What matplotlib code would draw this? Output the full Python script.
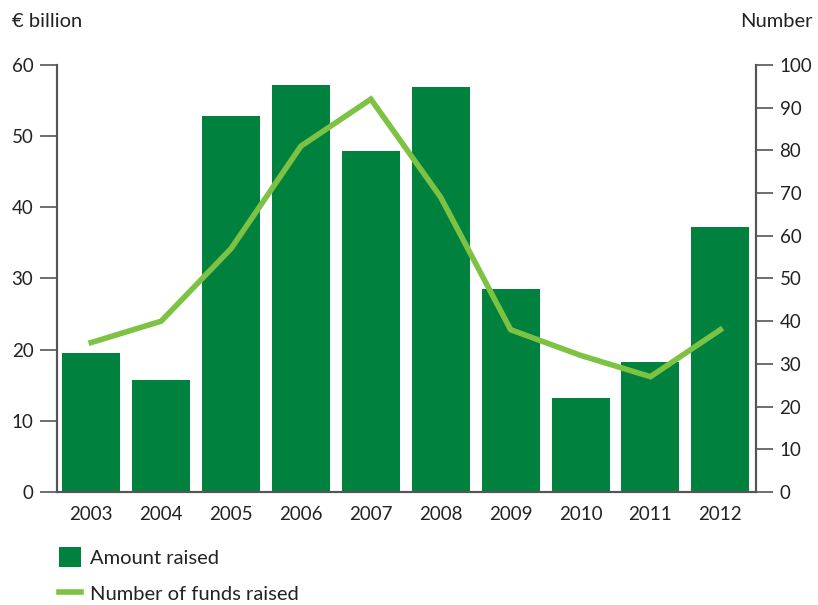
import matplotlib.pyplot as plt
from matplotlib.patches import Patch
from matplotlib.lines import Line2D

plt.rcParams['font.family'] = ['Lato', 'DejaVu Sans']

years = ['2003', '2004', '2005', '2006', '2007', '2008', '2009', '2010', '2011', '2012']
amount_raised = [19.5, 15.7, 52.8, 57.2, 47.9, 56.9, 28.5, 13.2, 18.3, 37.2]
funds_raised = [35, 40, 57, 81, 92, 69, 38, 32, 27, 38]

bar_color = '#00823e'
line_color = '#7dc242'
axis_color = '#555555'
text_color = '#222222'

fig = plt.figure(figsize=(8.18, 6.05), dpi=100)
ax = fig.add_axes([0.0697, 0.1868, 0.8545, 0.7058])
ax2 = ax.twinx()

x = range(len(years))
ax.bar(x, amount_raised, width=0.83, color=bar_color, zorder=2)
ax2.plot(x, funds_raised, color=line_color, lw=4, solid_joinstyle='miter', zorder=3)

ax.set_xlim(-0.49, 9.51)
ax.set_ylim(0, 60)
ax2.set_ylim(0, 100)
ax.set_yticks(range(0, 61, 10))
ax2.set_yticks(range(0, 101, 10))
ax.set_xticks(list(x))
ax.set_xticklabels(years)

for a in (ax, ax2):
    a.spines['top'].set_visible(False)
    for s in ('left', 'right', 'bottom'):
        a.spines[s].set_color(axis_color)
        a.spines[s].set_linewidth(1.5)
    a.tick_params(axis='y', length=12, width=1.2, color=axis_color,
                  labelsize=13.5, labelcolor=text_color, pad=5)
ax.tick_params(axis='x', length=0, labelsize=13.5, labelcolor=text_color, pad=10)

fig.text(0.015, 0.965, '€ billion', fontsize=14.5, color=text_color, va='center', ha='left')
fig.text(0.993, 0.965, 'Number', fontsize=14.5, color=text_color, va='center', ha='right')

handles = [Patch(facecolor=bar_color, edgecolor='none'),
           Line2D([0], [0], color=line_color, lw=4)]
fig.legend(handles, ['Amount raised', 'Number of funds raised'],
           loc='upper left', bbox_to_anchor=(0.062, 0.11), frameon=False,
           fontsize=14.5, handlelength=1.1, handleheight=1.2, labelspacing=0.8,
           handletextpad=0.45, borderaxespad=0, labelcolor=text_color)

fig.savefig('out.png', dpi=100)
